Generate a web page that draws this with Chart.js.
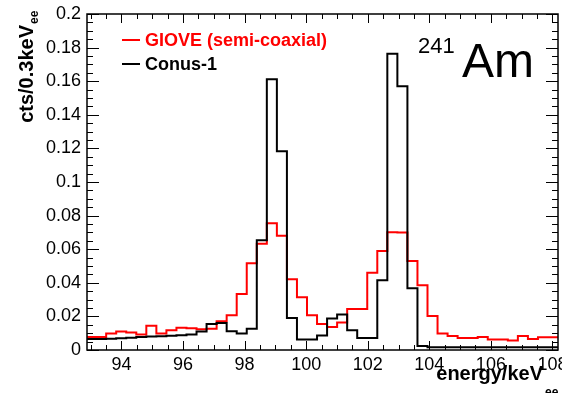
<!DOCTYPE html>
<html>
<head>
<meta charset="utf-8">
<script src="https://cdn.jsdelivr.net/npm/chart.js@4.4.1/dist/chart.umd.min.js"></script>
<style>
  html, body { margin: 0; padding: 0; background: #fff; }
</style>
</head>
<body>
<canvas id="spectrum" width="562" height="393"></canvas>
<script>
const fontFamily = "'Liberation Sans', Arial, Helvetica, sans-serif";

// binning of both histograms (lower edge of first bin, bin width in keV)
const binStart = 92.85;
const binWidth = 0.3262;

// cts / bin
const gioveCounts = [
    0.0077, 0.0078, 0.0098, 0.0110, 0.0104, 0.0093, 0.0145, 0.0098, 0.0117, 0.0133,
    0.0130, 0.0123, 0.0127, 0.0171, 0.0207, 0.0334, 0.0516, 0.0633, 0.0754, 0.0680,
    0.0421, 0.0314, 0.0207, 0.0155, 0.0137, 0.0163, 0.0244, 0.0244, 0.0460, 0.0589,
    0.0701, 0.0700, 0.0530, 0.0385, 0.0202, 0.0098, 0.0084, 0.0072, 0.0072, 0.0078,
    0.0062, 0.0062, 0.0056, 0.0084, 0.0066, 0.0076, 0.0076
];
const conusCounts = [
    0.0065, 0.0065, 0.0067, 0.0070, 0.0073, 0.0077, 0.0080, 0.0082, 0.0085, 0.0088,
    0.0093, 0.0110, 0.0155, 0.0160, 0.0111, 0.0098, 0.0127, 0.0653, 0.1611, 0.1183,
    0.0190, 0.0062, 0.0062, 0.0087, 0.0187, 0.0211, 0.0117, 0.0072, 0.0072, 0.0415,
    0.1764, 0.1570, 0.0367, 0.0024, 0.0017, 0.0017, 0.0017, 0.0017, 0.0017, 0.0017,
    0.0017, 0.0017, 0.0017, 0.0017, 0.0017, 0.0017, 0.0017
];

const seriesNames = ["GIOVE (semi-coaxial)", "Conus-1"];
const seriesColors = ["#ff0000", "#000000"];

const xRange = [92.88, 108.18];
const yRange = [0, 0.2];

// step outline: one point per lower bin edge, plus the last upper edge
const toSteps = function (counts) {
    const pts = counts.map((c, i) => ({ x: binStart + i * binWidth, y: c }));
    pts.push({ x: binStart + counts.length * binWidth, y: counts[counts.length - 1] });
    return pts;
};

const rootStyle = {
    id: 'rootStyle',
    afterDatasetsDraw(chart) {
        const { ctx, chartArea: a, scales: { x, y } } = chart;
        ctx.save();
        ctx.strokeStyle = "#000";
        ctx.lineWidth = 1;
        ctx.beginPath();
        // x ticks every 0.5, major every 2, on bottom and top
        for (let k = Math.ceil(x.min * 2); k <= Math.floor(x.max * 2); k++) {
            const px = Math.round(x.getPixelForValue(k / 2)) + 0.5;
            const len = k % 4 === 0 ? 9 : 5;
            ctx.moveTo(px, a.bottom); ctx.lineTo(px, a.bottom - len);
            ctx.moveTo(px, a.top); ctx.lineTo(px, a.top + len);
        }
        // y ticks every 0.005, major every 0.02, on left and right
        for (let k = 0; k <= 40; k++) {
            const py = Math.round(y.getPixelForValue(k * 0.005)) + 0.5;
            const len = k % 4 === 0 ? 12 : 6;
            ctx.moveTo(a.left, py); ctx.lineTo(a.left + len, py);
            ctx.moveTo(a.right, py); ctx.lineTo(a.right - len, py);
        }
        ctx.stroke();
        ctx.lineWidth = 1.5;
        ctx.strokeRect(a.left, a.top, a.right - a.left, a.bottom - a.top);
        ctx.restore();
    },
    afterDraw(chart) {
        const { ctx } = chart;
        ctx.save();
        ctx.fillStyle = "#000";
        ctx.textBaseline = "alphabetic";

        // x axis title
        ctx.font = "bold 20px " + fontFamily;
        ctx.textAlign = "right";
        ctx.fillText("energy/keV", 543, 380);
        ctx.font = "bold 12px " + fontFamily;
        ctx.textAlign = "left";
        ctx.fillText("ee", 545, 396);

        // y axis title
        ctx.save();
        ctx.translate(33, 25);
        ctx.rotate(-Math.PI / 2);
        ctx.font = "bold 20px " + fontFamily;
        ctx.textAlign = "right";
        ctx.fillText("cts/0.3keV", 0, 0);
        ctx.font = "bold 12px " + fontFamily;
        ctx.textAlign = "left";
        ctx.fillText("ee", 1, 5);
        ctx.restore();

        // legend
        ctx.font = "bold 18px " + fontFamily;
        ctx.textBaseline = "middle";
        ctx.textAlign = "left";
        chart.data.datasets.forEach((ds, i) => {
            const ly = 40 + i * 24;
            ctx.strokeStyle = ds.borderColor;
            ctx.lineWidth = 2;
            ctx.beginPath();
            ctx.moveTo(122, ly); ctx.lineTo(140, ly);
            ctx.stroke();
            ctx.fillStyle = ds.borderColor;
            ctx.fillText(ds.label, 145, ly + 1);
        });

        // isotope label
        ctx.fillStyle = "#000";
        ctx.textBaseline = "alphabetic";
        ctx.font = "22px " + fontFamily;
        ctx.fillText("241", 418, 53);
        ctx.font = "48px " + fontFamily;
        ctx.fillText("Am", 462, 77);
        ctx.restore();
    }
};

const ctx = document.getElementById('spectrum');

const chart = new Chart(ctx, {
    type: 'line',
    data: {
        datasets: [
            {
                label: seriesNames[0],
                data: toSteps(gioveCounts),
                borderColor: seriesColors[0],
                borderWidth: 2,
                stepped: true,
                pointRadius: 0,
                order: 2
            },
            {
                label: seriesNames[1],
                data: toSteps(conusCounts),
                borderColor: seriesColors[1],
                borderWidth: 2,
                stepped: true,
                pointRadius: 0,
                order: 1
            }
        ]
    },
    options: {
        responsive: false,
        animation: false,
        layout: { padding: { top: 14, right: 4, left: 0, bottom: 0 } },
        scales: {
            x: {
                type: 'linear',
                min: xRange[0],
                max: xRange[1],
                grid: { display: false, drawTicks: false },
                border: { display: false },
                ticks: {
                    stepSize: 2,
                    includeBounds: false,
                    autoSkip: false,
                    maxRotation: 0,
                    padding: 4,
                    color: "#000",
                    font: { family: fontFamily, size: 18 }
                },
                afterFit(scale) {
                    scale.height = 43;
                    scale.paddingLeft = 0;
                    scale.paddingRight = 0;
                }
            },
            y: {
                min: yRange[0],
                max: yRange[1],
                grid: { display: false, drawTicks: false },
                border: { display: false },
                ticks: {
                    stepSize: 0.02,
                    padding: 6,
                    color: "#000",
                    font: { family: fontFamily, size: 18 },
                    callback: (v) => String(+v.toFixed(3))
                },
                afterFit(scale) {
                    scale.width = 87;
                    scale.paddingTop = 0;
                    scale.paddingBottom = 0;
                }
            }
        },
        plugins: {
            legend: { display: false },
            tooltip: { enabled: false }
        }
    },
    plugins: [rootStyle]
});
</script>
</body>
</html>
